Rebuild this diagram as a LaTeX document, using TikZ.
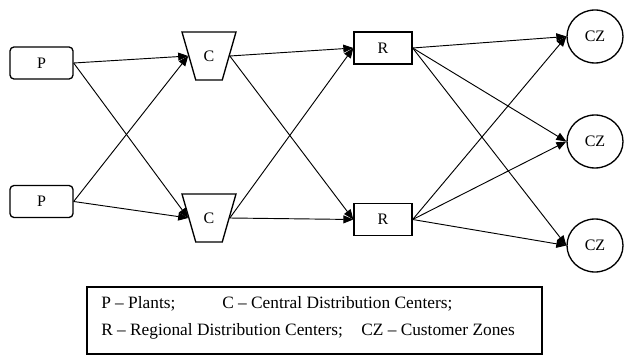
\documentclass[tikz,border=0pt]{standalone}
\usepackage{fontspec}
\setmainfont{Liberation Serif}
\usetikzlibrary{shapes.geometric,arrows.meta}

\begin{document}
\begin{tikzpicture}[x=0.75pt,y=-0.75pt]
        %estilos
        \tikzset{
            caja/.style={draw,line width=1pt,inner sep=0pt,font=\fontsize{12}{14}\selectfont},
            planta/.style={caja,rounded corners=3pt,minimum width=47.25pt,minimum height=24pt},
            central/.style={caja,trapezium,shape border rotate=180,trapezium left angle=74,trapezium right angle=74,
                trapezium stretches body=true,text height=8pt,text depth=0pt,inner ysep=14pt,minimum width=40.5pt},
            regional/.style={caja,minimum width=43.5pt,minimum height=24pt},
            zona/.style={caja,ellipse,minimum width=42pt,minimum height=39.75pt},
            flecha/.style={-{Triangle[length=7.5pt,width=6pt]},line width=0.7pt},
            texto/.style={anchor=base west,inner sep=0pt,font=\fontsize{13}{15}\selectfont}
        }
        \useasboundingbox (0,0) rectangle (624,356);

        % nodos
        \node[planta] (P1) at (41.5,63) {P};
        \node[planta] (P2) at (41.5,201.5) {P};
        \node[central] (C1) at (209,56) {C};
        \node[central] (C2) at (209,218) {C};
        \node[regional] (R1) at (383,48) {R};
        \node[regional] (R2) at (383,219.5) {R};
        \node[zona] (CZ1) at (595,36.5) {CZ};
        \node[zona] (CZ2) at (595,141.5) {CZ};
        \node[zona] (CZ3) at (595,245.5) {CZ};

        % flechas
        \foreach \p in {P1,P2}
            \foreach \c in {C1,C2}
                \draw[flecha] (\p.east) -- (\c.180);
        \foreach \c in {C1,C2}
            \foreach \r in {R1,R2}
                \draw[flecha] (\c.0) -- (\r.west);
        \foreach \r in {R1,R2}
            \foreach \z in {CZ1,CZ2,CZ3}
                \draw[flecha] (\r.east) -- (\z.west);

        % leyenda
        \node[draw,line width=1pt,minimum width=341.25pt,minimum height=50.25pt] (leyenda) at (314.5,320.5) {};
        \node[texto] (lP) at (101,308) {P -- Plants;};
        \node[texto] (lC) at (222,308) {C -- Central Distribution Centers;};
        \node[texto] (lR) at (101,335) {R -- Regional Distribution Centers;};
        \node[texto] (lCZ) at (361,335) {CZ -- Customer Zones};
    \end{tikzpicture}
\end{document}
